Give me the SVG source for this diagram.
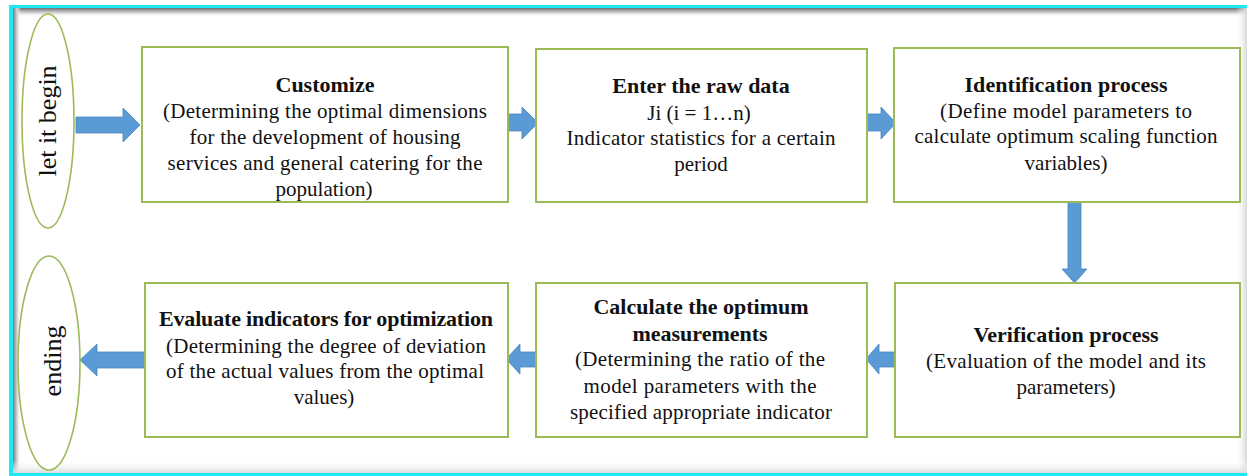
<svg xmlns="http://www.w3.org/2000/svg" width="1247" height="476" viewBox="0 0 1247 476" font-family="'Liberation Serif', Tinos, 'Times New Roman', Times, serif">
  <style>
    .box{fill:#fff;stroke:#9bbb59;stroke-width:2}
    .oval{fill:#fff;stroke:#9bbb59;stroke-width:1.6}
    .arr{fill:#5b9bd5;stroke:#4a86c0;stroke-width:0.8}
    text{font-family:'Liberation Serif', Tinos, 'Times New Roman', Times, serif;fill:#111;text-anchor:middle}
    .t{font-size:22px;font-weight:bold}
    .b{font-size:21px;font-weight:normal;font-style:normal}
    .v{font-size:26px}
  </style>
  <defs>
    <linearGradient id="gTop" x1="0" y1="0" x2="0" y2="1">
      <stop offset="0" stop-color="#6e6e6e"/>
      <stop offset="0.5" stop-color="#cfcfcf"/>
      <stop offset="1" stop-color="#fff" stop-opacity="0"/>
    </linearGradient>
    <linearGradient id="gLeft" x1="0" y1="0" x2="1" y2="0">
      <stop offset="0" stop-color="#7a7a7a"/>
      <stop offset="0.5" stop-color="#d2d2d2"/>
      <stop offset="1" stop-color="#fff" stop-opacity="0"/>
    </linearGradient>
    <linearGradient id="gRight" x1="1" y1="0" x2="0" y2="0">
      <stop offset="0" stop-color="#d6d6d6"/>
      <stop offset="1" stop-color="#fff" stop-opacity="0"/>
    </linearGradient>
    <linearGradient id="gBottom" x1="0" y1="1" x2="0" y2="0">
      <stop offset="0" stop-color="#dcdcdc"/>
      <stop offset="1" stop-color="#fff" stop-opacity="0"/>
    </linearGradient>
  </defs>

  <g id="frame">
    <rect x="0" y="0" width="1247" height="476" fill="#fff"/>
    <rect x="9" y="5" width="1240" height="473" fill="#1de9f2"/>
    <rect x="13" y="8" width="1236" height="465" fill="#fff"/>
    <rect x="13" y="8" width="1236" height="9" fill="url(#gTop)"/>
    <rect x="13" y="8" width="8" height="465" fill="url(#gLeft)"/>
    <rect x="1236" y="8" width="11" height="465" fill="url(#gRight)"/>
    <rect x="13" y="460" width="1236" height="13" fill="url(#gBottom)"/>
  </g>

  <g id="connectors">
    <polygon class="arr" points="76,117 123,117 123,108 140,125 123,142 123,133 76,133"/>
    <polygon class="arr" points="508,114 522,114 522,107 538,123 522,139 522,131 508,131"/>
    <polygon class="arr" points="866,114 881,114 881,107 896,123 881,139 881,131 866,131"/>
    <polygon class="arr" points="1068,202 1081,202 1081,269 1087,269 1074.5,283 1062,269 1068,269"/>
    <polygon class="arr" points="895,352 879,352 879,344 866,359 879,374 879,367 895,367"/>
    <polygon class="arr" points="536,352 520,352 520,344 506,359 520,374 520,367 536,367"/>
    <polygon class="arr" points="145,352 97,352 97,344 80,360 97,376 97,368 145,368"/>
  </g>

  <g id="start">
    <ellipse class="oval" cx="48" cy="121" rx="26" ry="107"/>
    <text class="v" transform="translate(56,121) rotate(-90)">let it begin</text>
  </g>

  <g id="customize">
    <rect class="box" x="142" y="47" width="366" height="155"/>
    <text class="t" x="325" y="92">Customize</text>
    <text class="b" x="325" y="118" textLength="324" lengthAdjust="spacing">(Determining the optimal dimensions</text>
    <text class="b" x="325" y="144" textLength="271" lengthAdjust="spacing">for the development of housing</text>
    <text class="b" x="325" y="170" textLength="315" lengthAdjust="spacing">services and general catering for the</text>
    <text class="b" x="324" y="196">population)</text>
  </g>

  <g id="raw-data">
    <rect class="box" x="536" y="49" width="331" height="153"/>
    <text class="t" x="701" y="93">Enter the raw data</text>
    <text class="b" x="699" y="120">Ji (i = 1…n)</text>
    <text class="b" x="701" y="145" textLength="269" lengthAdjust="spacing">Indicator statistics for a certain</text>
    <text class="b" x="701" y="171">period</text>
  </g>

  <g id="identification">
    <rect class="box" x="894" y="48" width="346" height="154"/>
    <text class="t" x="1066" y="92" textLength="203" lengthAdjust="spacing">Identification process</text>
    <text class="b" x="1066" y="118" textLength="252" lengthAdjust="spacing">(Define model parameters to</text>
    <text class="b" x="1066" y="143" textLength="303" lengthAdjust="spacing">calculate optimum scaling function</text>
    <text class="b" x="1066" y="170">variables)</text>
  </g>

  <g id="verification">
    <rect class="box" x="895" y="283" width="345" height="154"/>
    <text class="t" x="1066" y="342">Verification process</text>
    <text class="b" x="1066" y="368" textLength="280" lengthAdjust="spacing">(Evaluation of the model and its</text>
    <text class="b" x="1066" y="394">parameters)</text>
  </g>

  <g id="calculate">
    <rect class="box" x="536" y="283" width="331" height="154"/>
    <text class="t" x="701" y="314">Calculate the optimum</text>
    <text class="t" x="700" y="341">measurements</text>
    <text class="b" x="700" y="366" textLength="250" lengthAdjust="spacing">(Determining the ratio of the</text>
    <text class="b" x="700" y="393" textLength="233" lengthAdjust="spacing">model parameters with the</text>
    <text class="b" x="701" y="419" textLength="262" lengthAdjust="spacing">specified appropriate indicator</text>
  </g>

  <g id="evaluate">
    <rect class="box" x="145" y="283" width="363" height="154"/>
    <text class="t" x="326" y="326" textLength="334" lengthAdjust="spacing">Evaluate indicators for optimization</text>
    <text class="b" x="326" y="353" textLength="320" lengthAdjust="spacing">(Determining the degree of deviation</text>
    <text class="b" x="325" y="378" textLength="318" lengthAdjust="spacing">of the actual values from the optimal</text>
    <text class="b" x="324" y="404">values)</text>
  </g>

  <g id="end">
    <ellipse class="oval" cx="49" cy="363" rx="31" ry="107"/>
    <text class="v" transform="translate(61,361) rotate(-90)">ending</text>
  </g>
</svg>
